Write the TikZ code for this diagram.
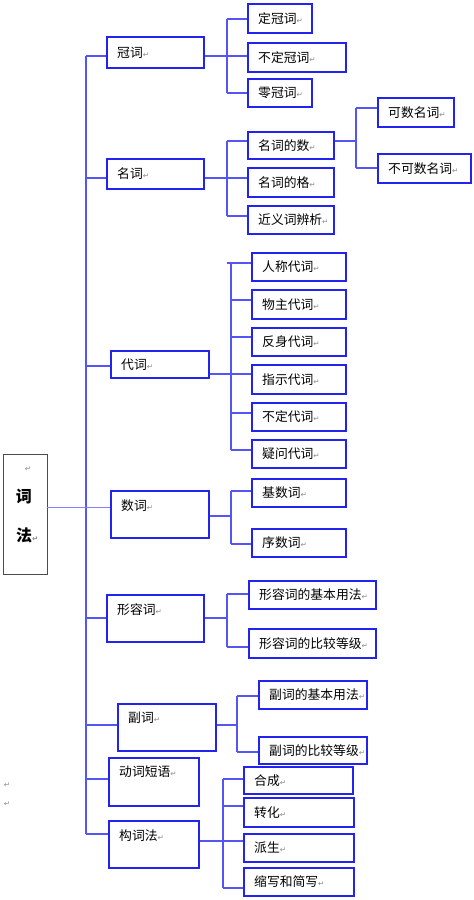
\documentclass[tikz,border=0pt]{standalone}
\usepackage{fontspec}
\setmainfont{Noto Sans CJK SC}
\newfontfamily\dejavu{DejaVu Sans}
\usetikzlibrary{fit}
\definecolor{boxblue}{RGB}{35,35,240}
\definecolor{lineblue}{RGB}{85,85,245}
\definecolor{thinblue}{RGB}{130,130,250}
\newcommand\parmark{{\dejavu\fontsize{7.5}{7.5}\selectfont\color{black!45}↵}}
\tikzset{
  bx/.style={draw=boxblue, line width=1.3pt, inner sep=0pt},
  tx/.style={anchor=west, inner sep=0pt, font=\fontsize{12.8}{14}\selectfont},
  ln/.style={draw=lineblue, line width=1.2pt},
}
% box with text at given y
\newcommand\mkbox[7]{%
  \node[bx, fit={(#2,#3)(#4,#5)}] (#1) {};
  \node[tx] (#1t) at ({#2+10},#7) {#6\parmark};
}
% box with vertically centred text
\newcommand\mkboxc[6]{%
  \node[bx, fit={(#2,#3)(#4,#5)}] (#1) {};
  \node[tx] (#1t) at ({#2+10},{(#3+#5)/2}) {#6\parmark};
}
% bracket connector
\newcommand\brk[6]{%
  \draw[ln] (#1.east |- 0,#2) -- (#3,#2);
  \draw[ln] (#3,#4) -- (#3,#5);
  \foreach \n/\y in {#6} \draw[ln] (#3,\y) -- (\n.west |- 0,\y);
}
\begin{document}
\begin{tikzpicture}[x=1pt,y=-1pt]
\useasboundingbox (0,0) rectangle (474,900);

% root
\node[draw=black!70, line width=0.8pt, fit={(3,454)(47,574)}, inner sep=0pt] (cifa) {};
\node[inner sep=0pt] (cifa0) at (28,469) {\parmark};
\node[inner sep=0pt, font=\fontsize{16}{16}\selectfont\bfseries] (cifa1) at (24,497) {词};
\node[inner sep=0pt, anchor=west, font=\fontsize{16}{16}\selectfont\bfseries] (cifa2) at (16,535) {法\parmark};

% level 1
\mkboxc{guanci}{107}{37}{204}{68}{冠词}
\mkboxc{mingci}{107}{159}{204}{189}{名词}
\mkboxc{daici}{111}{351}{209}{378}{代词}
\mkbox{shuci}{111}{491}{209}{538}{数词}{506}
\mkbox{xrc}{107}{595}{204}{642}{形容词}{610}
\mkbox{fuci}{118}{704}{216}{751}{副词}{718}
\mkbox{dcdy}{109}{758}{199}{806}{动词短语}{772}
\mkbox{gcf}{109}{821}{199}{868}{构词法}{836}

% level 2
\mkboxc{dgc}{248}{4}{312}{33}{定冠词}
\mkboxc{bdgc}{248}{43}{346}{72}{不定冠词}
\mkboxc{lgc}{248}{79}{312}{107}{零冠词}
\mkboxc{mcds}{248}{132}{334}{159}{名词的数}
\mkboxc{mcdg}{248}{168}{334}{197}{名词的格}
\mkboxc{jycbx}{248}{206}{334}{234}{近义词辨析}
\mkboxc{kmsc}{378}{98}{454}{127}{可数名词}
\mkboxc{bkmsc}{378}{154}{471}{183}{不可数名词}
\mkboxc{rcdc}{252}{253}{346}{281}{人称代词}
\mkboxc{wzdc}{252}{290}{346}{319}{物主代词}
\mkboxc{fsdc}{252}{328}{346}{356}{反身代词}
\mkboxc{zsdc}{252}{365}{346}{394}{指示代词}
\mkboxc{bddc}{252}{403}{346}{431}{不定代词}
\mkboxc{ywdc}{252}{440}{346}{468}{疑问代词}
\mkboxc{jsc}{252}{479}{346}{507}{基数词}
\mkboxc{xsc}{252}{529}{346}{557}{序数词}
\mkboxc{xjb}{249}{581}{376}{609}{形容词的基本用法}
\mkboxc{xbj}{249}{629}{376}{658}{形容词的比较等级}
\mkboxc{fjb}{259}{681}{367}{709}{副词的基本用法}
\mkboxc{fbj}{259}{737}{367}{764}{副词的比较等级}
\mkboxc{hc}{244}{767}{353}{794}{合成}
\mkboxc{zh}{244}{798}{354}{827}{转化}
\mkboxc{ps}{244}{834}{354}{862}{派生}
\mkboxc{sx}{244}{868}{354}{896}{缩写和简写}

% trunk
\coordinate (T0) at (86,56);
\coordinate (T1) at (86,834);
\draw[ln] (T0) -- (T1);
\foreach \n/\y in {guanci/56,mingci/178,daici/366,xrc/618,fuci/725,dcdy/779,gcf/834}
  \draw[ln] (86,\y) -- (\n.west |- 0,\y);
\draw[draw=thinblue, line width=0.7pt] (cifa.east |- 0,507) -- (shuci.west |- 0,507);

% brackets
\brk{guanci}{56}{227}{19}{93}{dgc/19,bdgc/56,lgc/93}
\brk{mingci}{178}{227}{141}{216}{mcds/141,mcdg/178,jycbx/216}
\brk{mcds}{141}{356}{108}{168}{kmsc/108,bkmsc/168}
\brk{daici}{374}{231}{263}{450}{rcdc/263,wzdc/300,fsdc/337,zsdc/374,bddc/413,ywdc/450}
\draw[ln] (227,263) -- (231,263);
\brk{shuci}{516}{231}{491}{544}{jsc/491,xsc/544}
\brk{xrc}{618}{227}{594}{647}{xjb/594,xbj/647}
\brk{fuci}{725}{237}{696}{752}{fjb/696,fbj/752}
\brk{gcf}{841}{223}{779}{888}{hc/779,zh/806,ps/841,sx/888}

% stray paragraph marks
\node[inner sep=0pt] (pm1) at (7,785) {\parmark};
\node[inner sep=0pt] (pm2) at (7,804) {\parmark};
\end{tikzpicture}
\end{document}
